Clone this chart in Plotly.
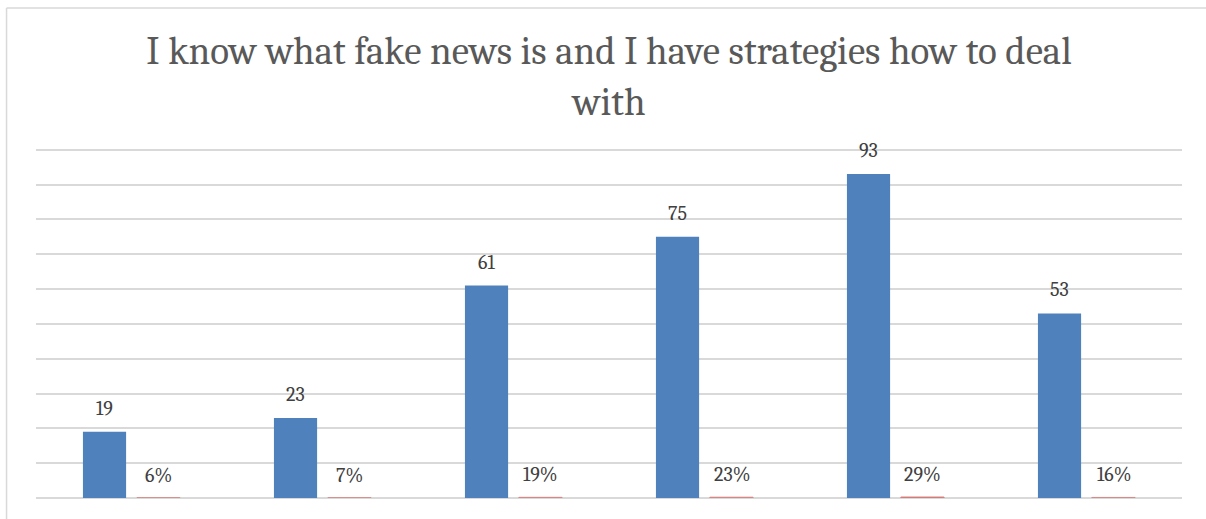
import plotly.graph_objects as go

# Survey answers, one slot per scale point
categories = ["A", "B", "C", "D", "E", "F"]
counts = [19, 23, 61, 75, 93, 53]
shares = [0.06, 0.07, 0.19, 0.23, 0.29, 0.16]

title_text = "I know what fake news is and I have strategies how to deal<br>with"

SERIF = "Cambria, 'DejaVu Serif', 'Liberation Serif', serif"
LABEL_FONT = dict(family=SERIF, size=20, color="#404040")
BAR_OFFSET_PX = 27  # distance of each bar's centre from its slot centre

fig = go.Figure()
fig.add_trace(go.Bar(
    x=categories, y=counts, name="Count",
    marker=dict(color="#4F81BD", line=dict(width=0)),
))
fig.add_trace(go.Bar(
    x=categories, y=shares, name="Share",
    marker=dict(color="#C0504D", line=dict(width=1, color="#D98A88")),
))

# value labels above each bar
annotations = []
for cat, n, s in zip(categories, counts, shares):
    annotations.append(dict(x=cat, y=n, xref="x", yref="y", text=f"{n}",
                            showarrow=False, xanchor="center", yanchor="bottom",
                            xshift=-BAR_OFFSET_PX, yshift=10, font=LABEL_FONT))
    annotations.append(dict(x=cat, y=s, xref="x", yref="y", text=f"{s:.0%}",
                            showarrow=False, xanchor="center", yanchor="bottom",
                            xshift=BAR_OFFSET_PX, yshift=9, font=LABEL_FONT))

fig.update_layout(
    width=1206, height=519,
    margin=dict(l=36, r=24, t=148, b=21),
    paper_bgcolor="white", plot_bgcolor="white",
    barmode="group", bargap=0.435, bargroupgap=0.2,
    showlegend=False,
    title=dict(
        text=title_text, x=0.505, xanchor="center", yref="container", y=0.877, yanchor="middle",
        font=dict(family=SERIF, size=39, color="#595959"),
    ),
    xaxis=dict(type="category", range=[-0.5, len(categories) - 0.5], showticklabels=False,
               showgrid=False, zeroline=False, showline=False, ticks=""),
    yaxis=dict(range=[0, 100.5], dtick=10, showticklabels=False, ticks="",
               showgrid=True, gridcolor="#D9D9D9", gridwidth=1.5,
               zeroline=True, zerolinecolor="#D9D9D9", zerolinewidth=1.5, showline=False),
    annotations=annotations,
    shapes=[
        # chart frame (left and top edges)
        dict(type="line", xref="paper", yref="paper", x0=-0.0257, x1=-0.0257, y0=1.40, y1=-0.2,
             line=dict(color="#D9D9D9", width=1.5)),
        dict(type="line", xref="paper", yref="paper", x0=-0.0257, x1=1.05, y0=1.40, y1=1.40,
             line=dict(color="#D9D9D9", width=1.5)),
    ],
)

fig.write_html("out.html")
